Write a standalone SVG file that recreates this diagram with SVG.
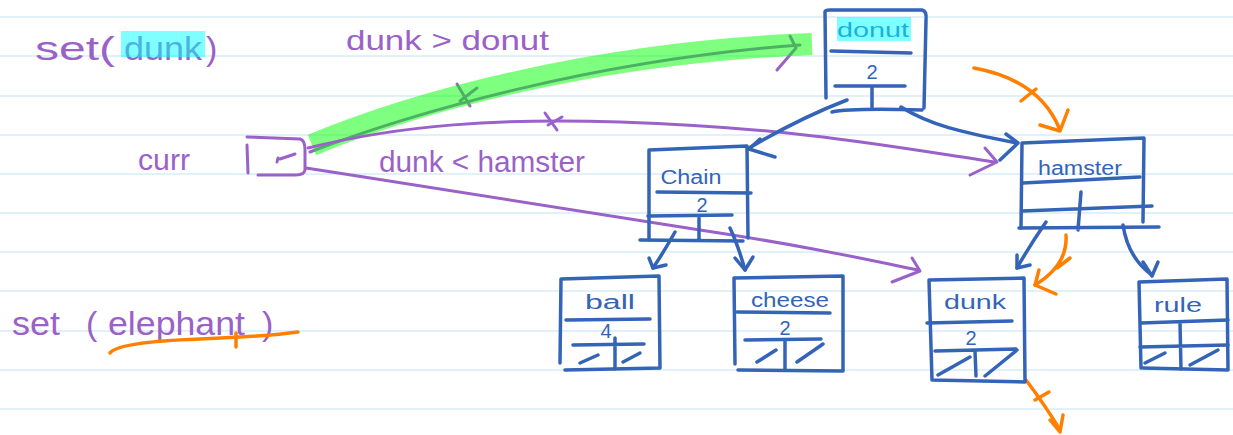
<svg xmlns="http://www.w3.org/2000/svg" width="1233" height="435" viewBox="0 0 1233 435">
<style>
.rule{stroke:#d6ecf8;stroke-width:1.5}
.b{fill:none;stroke:#3464b8;stroke-width:3.5;stroke-linecap:round;stroke-linejoin:round}
.p{fill:none;stroke:#9a62c9;stroke-width:3;stroke-linecap:round;stroke-linejoin:round}
.o{fill:none;stroke:#ff8000;stroke-width:3.5;stroke-linecap:round;stroke-linejoin:round}
.bt{font-family:"Liberation Sans",Arial,sans-serif;fill:#3464b8;font-size:20px;text-anchor:middle}
.pt{font-family:"Liberation Sans",Arial,sans-serif;fill:#9a62c9}
.num{font-family:"Liberation Sans",Arial,sans-serif;fill:#3464b8;font-size:20px;text-anchor:middle}
.cyan{fill:#00ffff;opacity:0.5}
</style>
<rect width="1233" height="435" fill="#ffffff"/>
<g id="ruled">
<line class="rule" x1="0" y1="17" x2="1233" y2="17"/>
<line class="rule" x1="0" y1="56" x2="1233" y2="56"/>
<line class="rule" x1="0" y1="96" x2="1233" y2="96"/>
<line class="rule" x1="0" y1="135" x2="1233" y2="135"/>
<line class="rule" x1="0" y1="174" x2="1233" y2="174"/>
<line class="rule" x1="0" y1="213" x2="1233" y2="213"/>
<line class="rule" x1="0" y1="252" x2="1233" y2="252"/>
<line class="rule" x1="0" y1="291" x2="1233" y2="291"/>
<line class="rule" x1="0" y1="331" x2="1233" y2="331"/>
<line class="rule" x1="0" y1="370" x2="1233" y2="370"/>
<line class="rule" x1="0" y1="409" x2="1233" y2="409"/>
</g>
<g id="notes">
<text class="pt" font-size="34" y="60"><tspan x="35" textLength="80" lengthAdjust="spacingAndGlyphs">set(</tspan><tspan x="124" textLength="78" lengthAdjust="spacingAndGlyphs">dunk</tspan><tspan x="206">)</tspan></text>
<rect class="cyan" x="121" y="31" width="84" height="26"/>
<text class="pt" font-size="28" x="346" y="50" textLength="203" lengthAdjust="spacingAndGlyphs">dunk &gt; donut</text>
<text class="pt" font-size="30" x="379" y="172" textLength="206" lengthAdjust="spacingAndGlyphs">dunk &lt; hamster</text>
<text class="pt" font-size="34" y="335"><tspan x="12" textLength="58" lengthAdjust="spacingAndGlyphs">set </tspan><tspan x="86">(</tspan><tspan x="108" textLength="137" lengthAdjust="spacingAndGlyphs">elephant</tspan><tspan x="262">)</tspan></text>
<path class="o" d="M110,353 Q118,342 200,339 Q270,336 298,332"/>
<path class="o" d="M236,333 L236,347"/>
</g>
<g id="curr">
<text class="pt" font-size="30" x="138" y="170" textLength="52" lengthAdjust="spacingAndGlyphs">curr</text>
<path class="p" d="M247,145 L248,173"/>
<path class="p" d="M247,137 L300,139 Q305,140 305,150 L305,170 Q304,175 296,175 L258,175"/>
<path class="p" d="M277,162 L278,158 M280,159 L295,154"/>
</g>
<g id="edges">
<path class="p" d="M310,152 C420,110 600,60 800,45"/>
<path class="p" d="M777,70 L796,48 L790,36"/>
<path class="p" d="M457,84 L470,106 M460,101 L477,88"/>
<path d="M312,145 C420,100 600,52 812,44" fill="none" stroke="#00ff00" stroke-opacity="0.5" stroke-width="22" stroke-linecap="butt"/>
<path class="p" d="M308,148 C400,125 500,118 620,122 C800,128 900,148 995,162"/>
<path class="p" d="M985,148 L997,162 L970,175"/>
<path class="p" d="M545,113 L557,130 M548,125 L562,117"/>
<path class="p" d="M306,168 C450,190 600,215 700,230 C800,245 860,258 918,270"/>
<path class="p" d="M912,258 L920,271 L892,282"/>
<path class="b" d="M847,100 Q800,118 749,148"/>
<path class="b" d="M760,139 L749,149 L775,157"/>
<path class="b" d="M901,107 C930,125 960,132 1017,143"/>
<path class="b" d="M1006,134 L1018,143 L1000,160"/>
<path class="b" d="M675,232 Q665,250 653,268"/>
<path class="b" d="M649,258 L653,268 L666,265"/>
<path class="b" d="M730,228 Q738,245 745,270"/>
<path class="b" d="M735,258 L745,270 L753,257"/>
<path class="b" d="M1046,222 Q1030,245 1017,268"/>
<path class="b" d="M1017,255 L1017,268 L1030,265"/>
<path class="b" d="M1123,225 Q1128,258 1152,275"/>
<path class="b" d="M1143,262 L1152,276 L1158,262"/>
<path class="o" d="M974,68 Q1040,80 1060,130"/>
<path class="o" d="M1040,125 L1060,131 L1068,110"/>
<path class="o" d="M1021,101 L1036,89"/>
<path class="o" d="M1066,235 Q1068,265 1035,285"/>
<path class="o" d="M1039,270 L1035,285 L1056,294"/>
<path class="o" d="M1057,268 L1070,258"/>
<path class="o" d="M1026,380 Q1045,405 1060,430"/>
<path class="o" d="M1050,420 L1060,432 L1063,415"/>
<path class="o" d="M1035,400 L1049,392"/>
</g>
<g id="node-donut">
<path class="b" d="M826,98 L825,12 Q825,10 830,10 L922,10 Q927,11 926,20 L924,108 M832,112 Q850,108 922,110"/>
<text class="bt" x="873" y="37" textLength="72" lengthAdjust="spacingAndGlyphs">donut</text>
<rect class="cyan" x="837" y="17" width="74" height="24"/>
<path class="b" d="M831,51 L911,53"/>
<text class="num" x="872" y="79">2</text>
<path class="b" d="M835,86 L905,86 M872,86 L872,107"/>
</g>
<g id="node-hamster">
<path class="b" d="M1021,228 L1022,143 L1144,138 L1143,222"/>
<text class="bt" x="1080" y="175" textLength="84" lengthAdjust="spacingAndGlyphs">hamster</text>
<path class="b" d="M1023,183 L1140,177 M1081,192 L1078,230 M1022,211 L1152,206 M1019,228 L1159,227"/>
</g>
<g id="node-chain">
<path class="b" d="M649,240 L649,150 L747,146 L748,238"/>
<text class="bt" x="691" y="184" textLength="61" lengthAdjust="spacingAndGlyphs">Chain</text>
<path class="b" d="M657,192 L751,193"/>
<text class="num" x="702" y="212">2</text>
<path class="b" d="M648,216 L732,215 M699,216 L699,240 M640,240 L743,241"/>
</g>
<g id="node-ball">
<path class="b" d="M560,363 L561,279 L659,276 L660,368 L565,370"/>
<text class="bt" x="610" y="309" textLength="50" lengthAdjust="spacingAndGlyphs">ball</text>
<path class="b" d="M566,320 L650,319"/>
<text class="num" x="606" y="338" font-size="18">4</text>
<path class="b" d="M573,345 L644,344 M615,338 L615,369 M580,363 L598,355 M623,362 L640,353"/>
</g>
<g id="node-cheese">
<path class="b" d="M735,364 L734,278 L843,276 L843,371 L738,370"/>
<text class="bt" x="790" y="307" textLength="78" lengthAdjust="spacingAndGlyphs">cheese</text>
<path class="b" d="M737,312 L830,313"/>
<text class="num" x="785" y="335">2</text>
<path class="b" d="M745,340 L821,339 M785,340 L785,370 M757,362 L776,350 M797,362 L823,344"/>
</g>
<g id="node-dunk">
<path class="b" d="M932,380 L929,280 L1024,278 L1025,382 L932,380"/>
<text class="bt" x="975" y="309" textLength="62" lengthAdjust="spacingAndGlyphs">dunk</text>
<path class="b" d="M927,323 L1012,321"/>
<text class="num" x="971" y="345">2</text>
<path class="b" d="M935,351 L1016,349 M975,351 L976,376 M938,375 L970,357 M985,376 L1017,350"/>
</g>
<g id="node-rule">
<path class="b" d="M1141,368 L1139,282 L1227,279 L1228,370 L1143,368"/>
<text class="bt" x="1178" y="312" textLength="48" lengthAdjust="spacingAndGlyphs">rule</text>
<path class="b" d="M1141,323 L1228,320 M1180,323 L1181,369 M1140,347 L1228,345 M1145,363 L1165,353 M1190,365 L1218,350"/>
</g>
</svg>
